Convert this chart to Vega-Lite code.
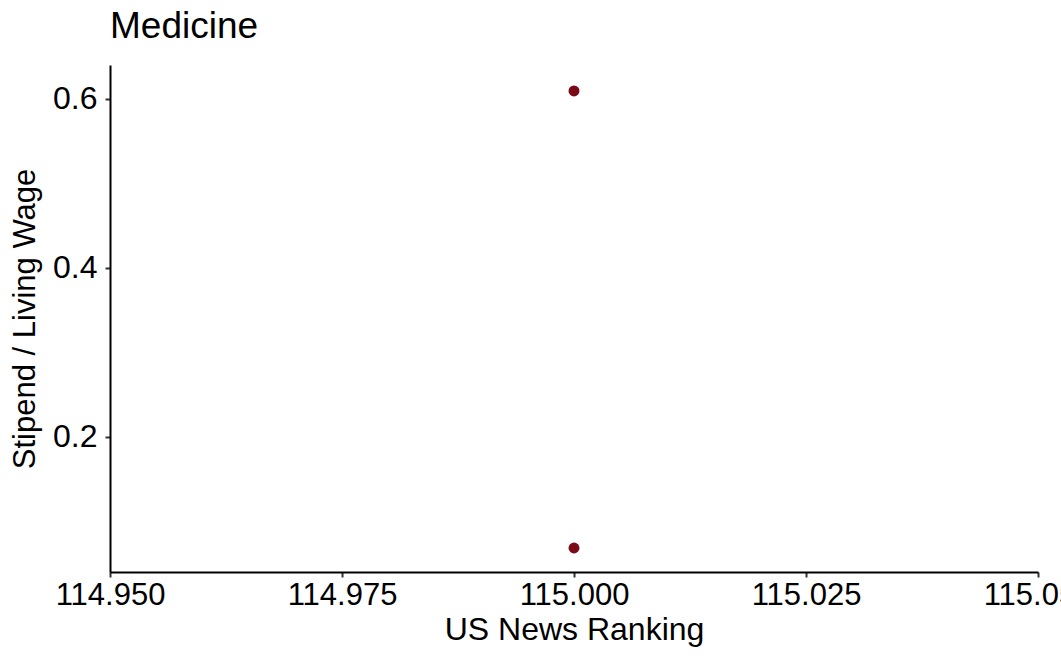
{
  "$schema": "https://vega.github.io/schema/vega-lite/v6.json",
  "autosize": {"type": "none"},
  "padding": {"left": 110, "top": 65, "right": 23, "bottom": 87},
  "width": 928,
  "height": 507,
  "background": "white",
  "title": {"text": "Medicine", "anchor": "start", "frame": "group", "font": "Liberation Sans", "fontSize": 37, "fontWeight": "normal", "color": "black", "offset": 19},
  "data": {"values": [
    {"ranking": 115, "ratio": 0.6095},
    {"ranking": 115, "ratio": 0.0686}
  ]},
  "mark": {"type": "circle", "size": 120, "color": "#7B0A17", "opacity": 1},
  "encoding": {
    "x": {"field": "ranking", "type": "quantitative", "title": "US News Ranking",
      "scale": {"domain": [114.95, 115.05], "nice": false, "zero": false},
      "axis": {"values": [114.95, 114.975, 115, 115.025, 115.05], "format": ".3f", "grid": false,
        "domainColor": "black", "domainWidth": 2, "tickColor": "#333333", "tickWidth": 2, "tickSize": 5,
        "labelFont": "Liberation Sans", "labelFontSize": 31, "labelColor": "black", "labelPadding": 3,
        "labelOverlap": false, "labelBound": false, "labelFlush": false,
        "titleFont": "Liberation Sans", "titleFontSize": 32, "titleFontWeight": "normal", "titleColor": "black", "titlePadding": 4}},
    "y": {"field": "ratio", "type": "quantitative", "title": "Stipend / Living Wage",
      "scale": {"domain": [0.0402, 0.6402], "nice": false, "zero": false},
      "axis": {"values": [0.2, 0.4, 0.6], "format": ".1f", "grid": false,
        "domainColor": "black", "domainWidth": 2, "tickColor": "#333333", "tickWidth": 2, "tickSize": 5,
        "labelFont": "Liberation Sans", "labelFontSize": 32, "labelColor": "black", "labelPadding": 8,
        "titleFont": "Liberation Sans", "titleFontSize": 31, "titleFontWeight": "normal", "titleColor": "black", "titlePadding": 11}}
  },
  "config": {"view": {"stroke": null}}
}
